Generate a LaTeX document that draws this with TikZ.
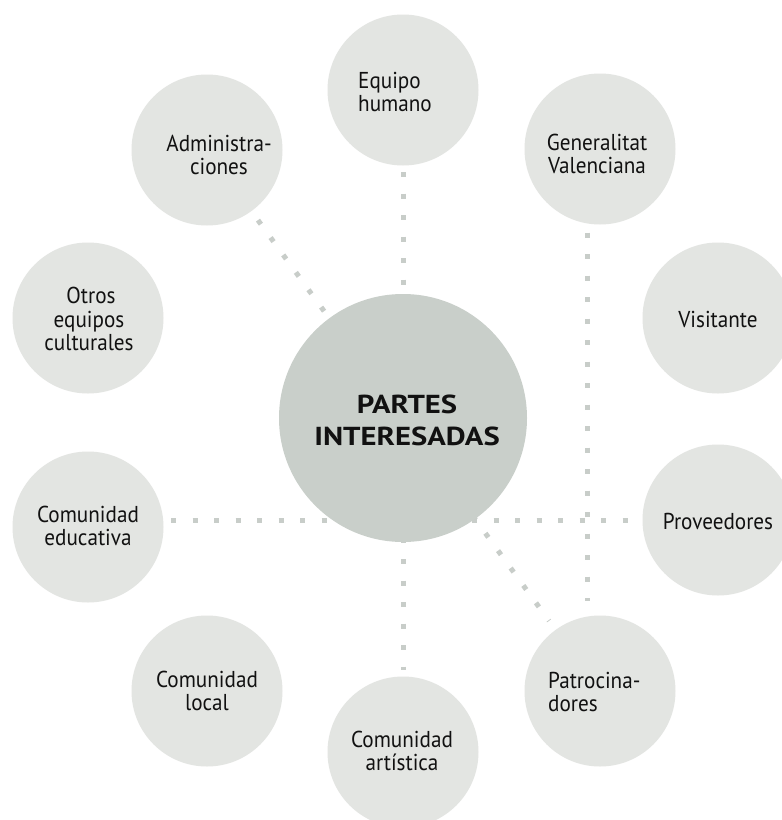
\documentclass[tikz,border=0pt]{standalone}
\usepackage{fontspec}
\setmainfont{PT Sans}[FakeStretch=0.92]
\newfontfamily\titlefont{PT Sans}[FakeStretch=1.18]
\usetikzlibrary{backgrounds,calc}
\definecolor{outerfill}{RGB}{227,229,226}
\definecolor{centerfill}{RGB}{201,207,202}
\definecolor{dotcol}{RGB}{200,205,201}
\definecolor{txt}{RGB}{17,17,17}
\begin{document}
\begin{tikzpicture}[x=1pt,y=-1pt,
  bubble/.style={circle, fill=outerfill, minimum size=151pt, inner sep=0pt},
  hub/.style={circle, fill=centerfill, minimum size=248pt, inner sep=0pt},
  lbl/.style={text=txt, font=\fontsize{23}{23.5}\selectfont, align=center, inner sep=0pt},
  lbll/.style={lbl, align=left, anchor=west},
  title/.style={text=txt, font=\titlefont\bfseries\fontsize{26}{32}\selectfont, align=center, inner sep=0pt},
  dots/.style={draw=dotcol, line width=5pt, line cap=butt, dash pattern=on 5pt off 16.5pt}]
\useasboundingbox (0,0) rectangle (782,820);
% circles
\node[hub] (hub) at (403,418) {};
\node[bubble] (equipo) at (403,90) {};
\node[bubble] (admin) at (207,150) {};
\node[bubble] (gen) at (600,149) {};
\node[bubble] (otros) at (88,318) {};
\node[bubble] (visit) at (718,318) {};
\node[bubble] (educ) at (88,527) {};
\node[bubble] (prov) at (718,520) {};
\node[bubble] (local) at (207,691) {};
\node[bubble] (patro) at (600,691) {};
\node[bubble] (artis) at (403,752) {};
% labels
\node[title] (thub) at (407,420) {PARTES\\INTERESADAS};
\node[lbll] (tequipo) at (358,92) {Equipo\\humano};
\node[lbl] (tadmin) at (219,155) {Administra-\\ciones};
\node[lbl] (tgen) at (597,154) {Generalitat\\Valenciana};
\node[lbl] (totros) at (89,319) {\hspace*{4pt}Otros\\equipos\\culturales};
\node[lbl] (tvisit) at (718,319) {Visitante};
\node[lbl] (teduc) at (88,526) {Comunidad\\educativa};
\node[lbl] (tprov) at (718,521) {Proveedores};
\node[lbl] (tlocal) at (207,691) {Comunidad\\local};
\node[lbll] (tpatro) at (548,692) {Patrocina-\\dores};
\node[lbl] (tartis) at (402,751) {Comunidad\\artística};
% dotted connectors behind the circles
\begin{scope}[on background layer]
\fill[white] (0,0) rectangle (782,820);
\draw[dots, shorten <=6.5pt, shorten >=6.5pt] (equipo.south) -- (artis.north);
\draw[dots, shorten <=7.5pt] (educ.east |- prov.west) -- (prov.west);
\draw[dots, shorten <=8pt, shorten >=14pt] ([xshift=-13pt]gen.south) -- ([xshift=-13pt]patro.north);
\draw[dots, shorten <=11pt, shorten >=11pt] (admin) -- (patro);
\end{scope}
\end{tikzpicture}
\end{document}
